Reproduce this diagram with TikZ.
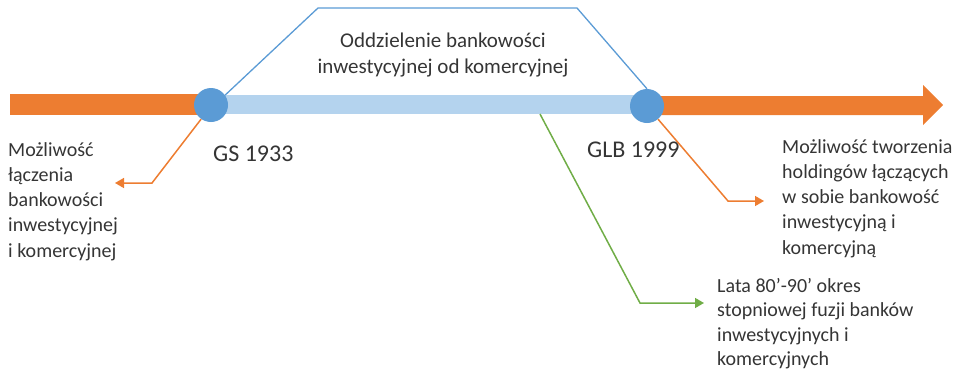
\documentclass[tikz,border=0pt]{standalone}
\usepackage{fontspec}
\setmainfont{Carlito}
\usetikzlibrary{arrows.meta}
\definecolor{myorange}{HTML}{ED7D31}
\definecolor{myblue}{HTML}{5B9BD5}
\definecolor{mylight}{HTML}{B4D3EE}
\definecolor{mygreen}{HTML}{70AD47}
\definecolor{mytext}{HTML}{353535}
\begin{document}
\begin{tikzpicture}[x=1pt,y=-1pt,
  txt/.style={font=\fontsize{20}{25.3}\selectfont, text=mytext, inner sep=0pt, align=left, anchor=north west},
  lbl/.style={font=\fontsize{24}{26}\selectfont, text=mytext, anchor=west, inner sep=0pt},
  dot/.style={circle, fill=myblue, minimum size=34pt, inner sep=0pt},
  conn/.style={line width=1.5pt, -{Triangle[length=9pt,width=10pt]}},
]
\useasboundingbox (0,0) rectangle (961,370);
% bars
\fill[myorange] (10,94) rectangle (212,115);
\fill[mylight] (212,95) rectangle (647,114);
\fill[myorange] (647,96) -- (923,96) -- (923,85) -- (943,105) -- (923,125) -- (923,115) -- (647,115) -- cycle;
% nodes
\node[dot] (gs) at (211,105) {};
\node[dot] (glb) at (647,106) {};
\draw[myblue, line width=1.3pt] (gs.35) -- (318,8) -- (577,8) -- (glb.north);
\node[font=\fontsize{21}{26}\selectfont, text=mytext, align=center] (sep) at (443,55) {Oddzielenie bankowości\\inwestycyjnej od komercyjnej};
\node[lbl] (gsl) at (213,154) {GS 1933};
\node[lbl] (glbl) at (587,150) {GLB 1999};
\node[txt] (lt) at (8,142) {Możliwość\\łączenia\\bankowości\\inwestycyjnej\\i komercyjnej};
\node[txt] (rt) at (782,139) {Możliwość tworzenia\\holdingów łączących\\w sobie bankowość\\inwestycyjną i\\komercyjną};
\node[txt, font=\fontsize{20}{24.5}\selectfont] (gt) at (717,278) {Lata 80’-90’ okres\\stopniowej fuzji banków\\inwestycyjnych i\\komercyjnych};
% connectors
\coordinate (lc) at (152,183);
\coordinate (le) at (115,183);
\draw[myorange, conn] (gs.235) -- (lc) -- (le);
\coordinate (rc) at (728,201);
\coordinate (re) at (764,201);
\draw[myorange, conn] (glb.-50) -- (rc) -- (re);
\coordinate (gs0) at (540,114);
\coordinate (gc) at (640,303);
\coordinate (ge) at (704,303);
\draw[mygreen, conn] (gs0) -- (gc) -- (ge);
\end{tikzpicture}
\end{document}
